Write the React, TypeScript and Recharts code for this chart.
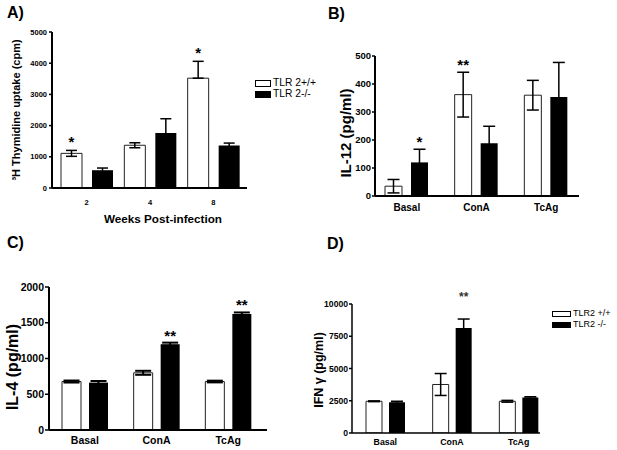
import React from 'react';
import { BarChart, Bar, XAxis, YAxis, ErrorBar, LabelList, Legend } from 'recharts';

const FONT = "Arial, 'Liberation Sans', Helvetica, sans-serif";

// ---------- categories ----------
const weeks = ['2', '4', '8'];
const stimuli = ['Basal', 'ConA', 'TcAg'];

// ---------- Panel A: 3H Thymidine uptake (cpm) ----------
const aWildMean = [1110, 1370, 3520];
const aWildErr = [[95, 95], [80, 80], [0, 540]];
const aWildSig = ['*', '', '*'];
const aKoMean = [570, 1760, 1360];
const aKoErr = [[70, 70], [460, 460], [80, 80]];
const aKoSig = ['', '', ''];
const aTicks = [0, 1000, 2000, 3000, 4000, 5000];
const aNames = ['TLR 2+/+', 'TLR 2-/-'];

// ---------- Panel B: IL-12 (pg/ml) ----------
const bWildMean = [35, 362, 360];
const bWildErr = [[24, 24], [80, 80], [53, 53]];
const bWildSig = ['', '**', ''];
const bKoMean = [120, 188, 354];
const bKoErr = [[47, 47], [61, 61], [123, 123]];
const bKoSig = ['*', '', ''];
const bTicks = [0, 100, 200, 300, 400, 500];

// ---------- Panel C: IL-4 (pg/ml) ----------
const cWildMean = [678, 800, 678];
const cWildErr = [[14, 14], [28, 28], [12, 12]];
const cWildSig = ['', '', ''];
const cKoMean = [663, 1200, 1622];
const cKoErr = [[22, 22], [22, 22], [22, 22]];
const cKoSig = ['', '**', '**'];
const cTicks = [0, 500, 1000, 1500, 2000];

// ---------- Panel D: IFN gamma (pg/ml) ----------
const dWildMean = [2460, 3760, 2460];
const dWildErr = [[30, 30], [850, 850], [70, 70]];
const dWildSig = ['', '', ''];
const dKoMean = [2380, 8135, 2750];
const dKoErr = [[80, 80], [700, 700], [60, 60]];
const dKoSig = ['', '**', ''];
const dTicks = [0, 2500, 5000, 7500, 10000];
const dNames = ['TLR2 +/+', 'TLR2 -/-'];

type Row = { cat: string; w: number; wErr: number[]; wSig: string; k: number; kErr: number[]; kSig: string };

function makeRows(cats: string[], wm: number[], we: number[][], ws: string[], km: number[], ke: number[][], ks: string[]): Row[] {
  return cats.map((c, i) => ({ cat: c, w: wm[i], wErr: we[i], wSig: ws[i], k: km[i], kErr: ke[i], kSig: ks[i] }));
}

const aRows = makeRows(weeks, aWildMean, aWildErr, aWildSig, aKoMean, aKoErr, aKoSig);
const bRows = makeRows(stimuli, bWildMean, bWildErr, bWildSig, bKoMean, bKoErr, bKoSig);
const cRows = makeRows(stimuli, cWildMean, cWildErr, cWildSig, cKoMean, cKoErr, cKoSig);
const dRows = makeRows(stimuli, dWildMean, dWildErr, dWildSig, dKoMean, dKoErr, dKoSig);

const sigRenderer = (rows: Row[], valKey: 'w' | 'k', errKey: 'wErr' | 'kErr', fontSize: number, gap: number, color: string) =>
  (props: any) => {
    const { index, value } = props;
    if (!value || index === undefined) return null;
    const vb = props.viewBox || props;
    const x = vb.x ?? props.x;
    const y = vb.y ?? props.y;
    const w = vb.width ?? props.width;
    const h = vb.height ?? props.height;
    const row = rows[index];
    const v = row[valKey];
    const hi = row[errKey][1];
    const pxPer = Math.abs(h) / v;
    const ty = y - hi * pxPer - gap;
    return (
      <text x={x + w / 2} y={ty} textAnchor="middle" fontSize={fontSize} fontWeight="bold" fontFamily={FONT} fill={color}>
        {value}
      </text>
    );
  };

type LegendCfg = { left: number; top: number; rowH: number; boxW: number; boxH: number; font: number };

const legendContent = (cfg: LegendCfg) => (props: any) => {
  const payload = props.payload || [];
  return (
    <div style={{ fontFamily: FONT, whiteSpace: 'nowrap' }}>
      {payload.map((it: any, i: number) => (
        <div key={i} style={{ display: 'flex', alignItems: 'center', height: cfg.rowH, whiteSpace: 'nowrap' }}>
          <span
            style={{
              display: 'inline-block',
              flex: 'none',
              width: cfg.boxW,
              height: cfg.boxH,
              boxSizing: 'border-box',
              border: '1px solid #000',
              background: it.color,
              marginRight: 2,
            }}
          />
          <span style={{ fontSize: cfg.font, color: '#000', lineHeight: 1, whiteSpace: 'nowrap' }}>{it.value}</span>
        </div>
      ))}
    </div>
  );
};

type PanelProps = {
  title: string;
  titlePos: { x: number; y: number };
  left: number;
  top: number;
  width: number;
  height: number;
  margin: { top: number; right: number; bottom: number; left: number };
  yWidth: number;
  xHeight: number;
  xPadding: { left: number; right: number };
  rows: Row[];
  domain: [number, number];
  ticks: number[];
  yTickFont: number;
  yTickSize: number;
  yTickMargin: number;
  xTickFont: number;
  xTickMargin: number;
  yLabel: string;
  yLabelPos: { x: number; y: number };
  yLabelFont: number;
  xLabel?: string;
  xLabelPos?: { x: number; y: number };
  xLabelFont?: number;
  barSize: number;
  barGap: number;
  errW: number;
  errStroke: number;
  axisStroke: number;
  sigFont: number;
  sigGap: number;
  sigColor: string;
  names: string[];
  legend?: LegendCfg;
};

function Panel(p: PanelProps) {
  return (
    <div style={{ position: 'absolute', left: p.left, top: p.top, width: p.width, height: p.height }}>
      <div
        style={{
          position: 'absolute',
          left: p.titlePos.x,
          top: p.titlePos.y,
          fontFamily: FONT,
          fontWeight: 'bold',
          fontSize: 16,
          lineHeight: 1,
          color: '#000',
        }}
      >
        {p.title}
      </div>
      <BarChart width={p.width} height={p.height} data={p.rows} margin={p.margin} barGap={p.barGap} barSize={p.barSize}>
        <XAxis
          dataKey="cat"
          height={p.xHeight}
          padding={p.xPadding}
          axisLine={{ stroke: '#000', strokeWidth: p.axisStroke }}
          tickLine={false}
          tickSize={0}
          tickMargin={p.xTickMargin}
          tick={{ fill: '#000', fontSize: p.xTickFont, fontWeight: 'bold', fontFamily: FONT }}
          label={
            p.xLabel
              ? {
                  content: () => (
                    <text
                      x={p.xLabelPos!.x}
                      y={p.xLabelPos!.y}
                      textAnchor="middle"
                      dominantBaseline="central"
                      fontSize={p.xLabelFont}
                      fontWeight="bold"
                      fontFamily={FONT}
                      fill="#000"
                    >
                      {p.xLabel}
                    </text>
                  ),
                }
              : undefined
          }
        />
        <YAxis
          width={p.yWidth}
          domain={p.domain}
          ticks={p.ticks}
          interval={0}
          allowDataOverflow
          axisLine={{ stroke: '#000', strokeWidth: p.axisStroke }}
          tickLine={{ stroke: '#000', strokeWidth: 1.5 }}
          tickSize={p.yTickSize}
          tickMargin={p.yTickMargin}
          tick={{ fill: '#000', fontSize: p.yTickFont, fontWeight: 'bold', fontFamily: FONT }}
          label={{
            content: () => (
              <text
                x={p.yLabelPos.x}
                y={p.yLabelPos.y}
                transform={`rotate(-90, ${p.yLabelPos.x}, ${p.yLabelPos.y})`}
                textAnchor="middle"
                dominantBaseline="central"
                fontSize={p.yLabelFont}
                fontWeight="bold"
                fontFamily={FONT}
                fill="#000"
              >
                {p.yLabel}
              </text>
            ),
          }}
        />
        {p.legend && (
          <Legend
            layout="horizontal"
            verticalAlign="middle"
            align="center"
            wrapperStyle={{ left: p.legend.left, top: p.legend.top, width: 90 }}
            content={legendContent(p.legend)}
          />
        )}
        <Bar dataKey="w" name={p.names[0]} fill="#ffffff" stroke="#222" strokeWidth={1} isAnimationActive={false}>
          <ErrorBar dataKey="wErr" direction="y" width={p.errW} stroke="#000" strokeWidth={p.errStroke} isAnimationActive={false} />
          <LabelList dataKey="wSig" content={sigRenderer(p.rows, 'w', 'wErr', p.sigFont, p.sigGap, p.sigColor)} />
        </Bar>
        <Bar dataKey="k" name={p.names[1]} fill="#000000" isAnimationActive={false}>
          <ErrorBar dataKey="kErr" direction="y" width={p.errW} stroke="#000" strokeWidth={p.errStroke} isAnimationActive={false} />
          <LabelList dataKey="kSig" content={sigRenderer(p.rows, 'k', 'kErr', p.sigFont, p.sigGap, p.sigColor)} />
        </Bar>
      </BarChart>
    </div>
  );
}

export default function App() {
  return (
    <div style={{ position: 'absolute', left: 0, top: 0, width: 617, height: 450, background: '#fff', overflow: 'hidden' }}>
      <Panel
        title="A)"
        titlePos={{ x: 7, y: 5 }}
        left={0}
        top={0}
        width={310}
        height={225}
        margin={{ top: 32, right: 63, bottom: 17, left: 0 }}
        yWidth={52}
        xHeight={20}
        xPadding={{ left: 3, right: 2 }}
        rows={aRows}
        domain={[0, 5000]}
        ticks={aTicks}
        yTickFont={7.5}
        yTickSize={3}
        yTickMargin={2}
        xTickFont={7.5}
        xTickMargin={12}
        yLabel="³H Thymidine uptake (cpm)"
        yLabelPos={{ x: 16, y: 110 }}
        yLabelFont={11}
        xLabel="Weeks Post-infection"
        xLabelPos={{ x: 163, y: 218 }}
        xLabelFont={11.7}
        barSize={21}
        barGap={10}
        errW={5.5}
        errStroke={1.5}
        axisStroke={2}
        sigFont={15}
        sigGap={3}
        sigColor="#000"
        names={aNames}
        legend={{ left: 255, top: 78, rowH: 11, boxW: 16, boxH: 7, font: 10.3 }}
      />
      <Panel
        title="B)"
        titlePos={{ x: 18, y: 6 }}
        left={310}
        top={0}
        width={307}
        height={225}
        margin={{ top: 56, right: 38, bottom: 9, left: 0 }}
        yWidth={65}
        xHeight={20}
        xPadding={{ left: -3, right: -2 }}
        rows={bRows}
        domain={[0, 500]}
        ticks={bTicks}
        yTickFont={9.5}
        yTickSize={3}
        yTickMargin={1}
        xTickFont={10}
        xTickMargin={7.5}
        yLabel="IL-12 (pg/ml)"
        yLabelPos={{ x: 35, y: 133 }}
        yLabelFont={15}
        barSize={17}
        barGap={9}
        errW={6}
        errStroke={1.5}
        axisStroke={2}
        sigFont={15}
        sigGap={2}
        sigColor="#000"
        names={aNames}
      />
      <Panel
        title="C)"
        titlePos={{ x: 7, y: 10 }}
        left={0}
        top={225}
        width={310}
        height={225}
        margin={{ top: 62, right: 43, bottom: 0, left: 0 }}
        yWidth={49}
        xHeight={20}
        xPadding={{ left: 0, right: 3 }}
        rows={cRows}
        domain={[0, 2000]}
        ticks={cTicks}
        yTickFont={10.5}
        yTickSize={4}
        yTickMargin={1}
        xTickFont={10.5}
        xTickMargin={7}
        yLabel="IL-4 (pg/ml)"
        yLabelPos={{ x: 12, y: 142 }}
        yLabelFont={16}
        barSize={19}
        barGap={8}
        errW={8}
        errStroke={2}
        axisStroke={2}
        sigFont={15}
        sigGap={2}
        sigColor="#000"
        names={aNames}
      />
      <Panel
        title="D)"
        titlePos={{ x: 17, y: 11 }}
        left={310}
        top={225}
        width={307}
        height={225}
        margin={{ top: 79, right: 77, bottom: 0, left: 0 }}
        yWidth={42}
        xHeight={17}
        xPadding={{ left: 0, right: -12 }}
        rows={dRows}
        domain={[0, 10000]}
        ticks={dTicks}
        yTickFont={8.6}
        yTickSize={3}
        yTickMargin={1}
        xTickFont={8.8}
        xTickMargin={5.5}
        yLabel="IFN γ (pg/ml)"
        yLabelPos={{ x: 9, y: 145 }}
        yLabelFont={12.5}
        barSize={16}
        barGap={7}
        errW={6}
        errStroke={1.5}
        axisStroke={1.5}
        sigFont={12}
        sigGap={18}
        sigColor="#333"
        names={dNames}
        legend={{ left: 242, top: 83, rowH: 11, boxW: 19, boxH: 6, font: 9 }}
      />
    </div>
  );
}
